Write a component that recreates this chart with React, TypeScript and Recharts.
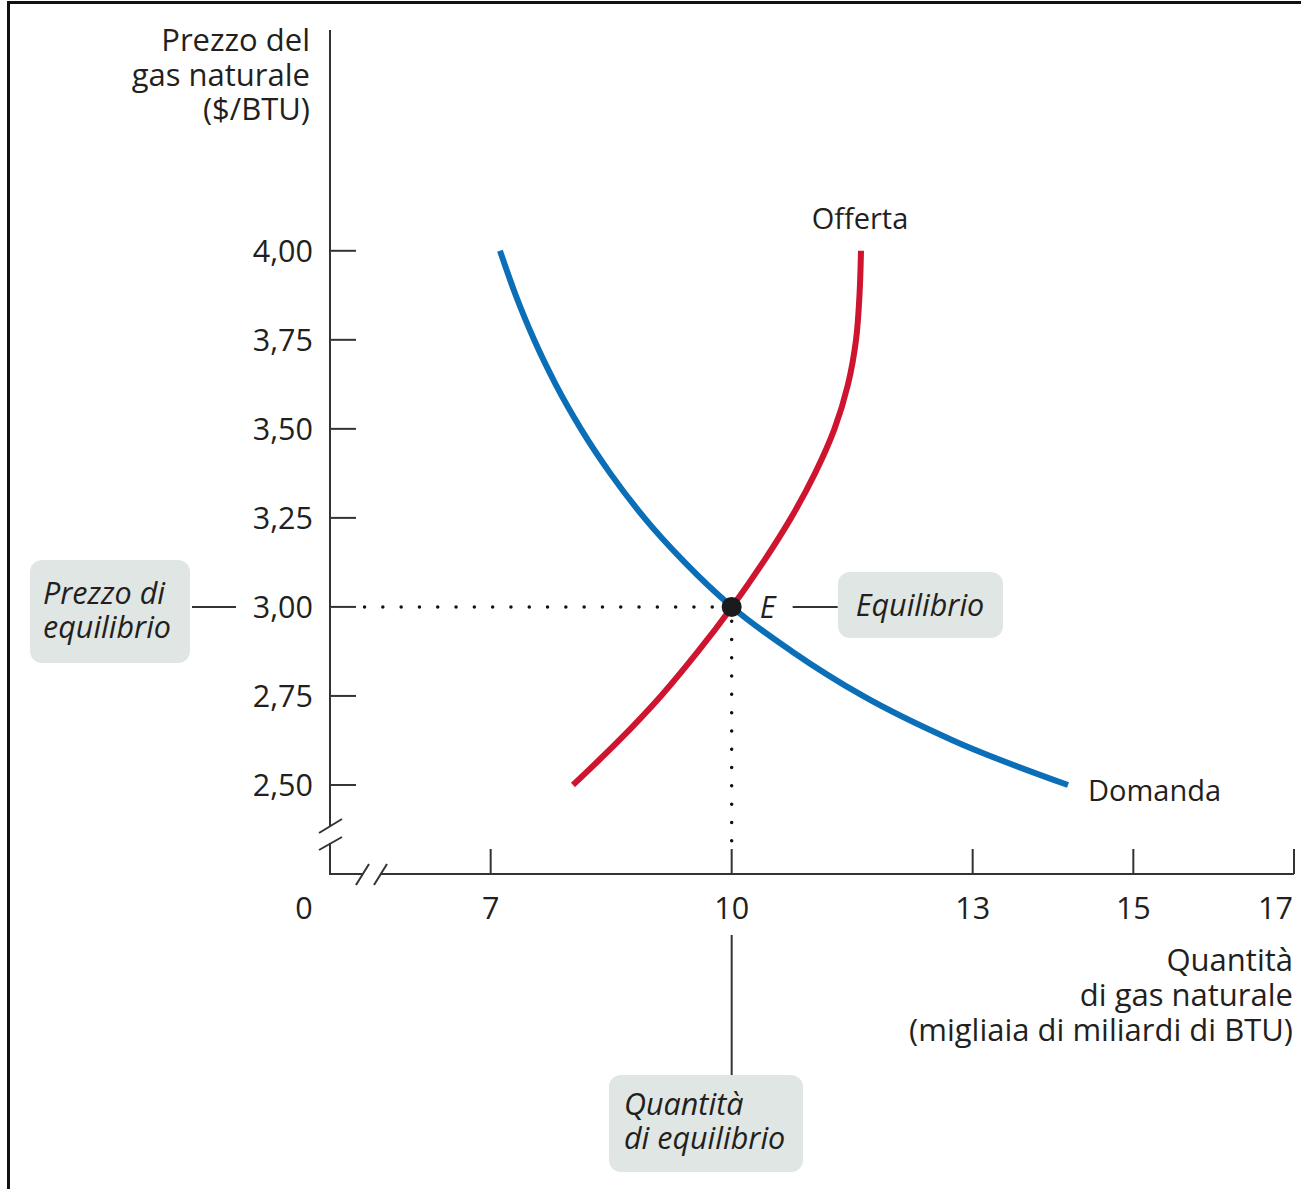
import React from 'react';
import { ComposedChart, Line, XAxis, YAxis, ReferenceLine } from 'recharts';

// ---------- data ----------
const demandQ = [7.116, 7.312, 7.541, 7.809, 8.123, 8.489, 8.913, 9.416, 10.004, 10.751, 11.635, 12.755, 14.187];
const demandP = [4.0, 3.875, 3.75, 3.625, 3.5, 3.375, 3.25, 3.125, 3.0, 2.875, 2.75, 2.625, 2.5];
const supplyQ = [8.025, 8.598, 9.12, 9.581, 10.004, 10.39, 10.739, 11.037, 11.28, 11.448, 11.548, 11.591, 11.61];
const supplyP = [2.5, 2.625, 2.75, 2.875, 3.0, 3.125, 3.25, 3.375, 3.5, 3.625, 3.75, 3.875, 4.0];
const equilibriumQ = [10];
const equilibriumP = [3];

const xTicks = [5, 7, 10, 13, 15, 17];
const xTickLabels = ['0', '7', '10', '13', '15', '17'];
const yTicks = [2.5, 2.75, 3, 3.25, 3.5, 3.75, 4];
const yTickLabels = ['2,50', '2,75', '3,00', '3,25', '3,50', '3,75', '4,00'];

const yTitle = ['Prezzo del', 'gas naturale', '($/BTU)'];
const xTitle = ['Quantità', 'di gas naturale', '(migliaia di miliardi di BTU)'];

// ---------- layout ----------
const W = 1301;
const H = 1189;
const Y_AXIS_W = 60;
const X_AXIS_H = 40;
const PLOT = { left: 330, top: 30, right: 1294, bottom: 874 };
const MARGIN = { top: PLOT.top, right: W - PLOT.right, bottom: H - PLOT.bottom - X_AXIS_H, left: PLOT.left - Y_AXIS_W };
const X_DOMAIN: [number, number] = [5, 17];
const Y_DOMAIN: [number, number] = [2.25, 4.62];
const PLOT_W = PLOT.right - PLOT.left;
const PLOT_H = PLOT.bottom - PLOT.top;
const sx = (q: number) => PLOT.left + ((q - X_DOMAIN[0]) / (X_DOMAIN[1] - X_DOMAIN[0])) * PLOT_W;
const sy = (p: number) => PLOT.top + ((Y_DOMAIN[1] - p) / (Y_DOMAIN[1] - Y_DOMAIN[0])) * PLOT_H;

const FONT = '"Open Sans", "Noto Sans", sans-serif';
const TEXT = '#231f20';
const AXIS = '#333333';
const BLUE = '#0b6fb8';
const RED = '#cf1430';
const BOX = '#dfe6e3';
const FS_TICK = 30.5;
const FS_TITLE = 31;
const FS_LABEL = 29;
const FS_BOX = 30.5;

const demandData = demandQ.map((q, i) => ({ q, p: demandP[i] }));
const supplyData = supplyQ.map((q, i) => ({ q, p: supplyP[i] }));
const eqData = equilibriumQ.map((q, i) => ({ q, p: equilibriumP[i] }));

const YTick = (props: any) => {
  const { x, y, payload } = props;
  const idx = yTicks.indexOf(payload.value);
  return (
    <g>
      <line x1={x} y1={y} x2={x + 26} y2={y} stroke={AXIS} strokeWidth={2} />
      <text x={x - 17} y={y} dy={11} textAnchor="end" fontFamily={FONT} fontSize={FS_TICK} fill={TEXT}>
        {yTickLabels[idx]}
      </text>
    </g>
  );
};

const XTick = (props: any) => {
  const { x, y, payload } = props;
  const idx = xTicks.indexOf(payload.value);
  const isZero = idx === 0;
  const isLast = idx === xTicks.length - 1;
  return (
    <g>
      {!isZero && <line x1={x} y1={y} x2={x} y2={y - 25} stroke={AXIS} strokeWidth={2} />}
      <text
        x={isZero ? x - 26 : isLast ? x - 1 : x}
        y={y + 45}
        textAnchor={isLast ? 'end' : 'middle'}
        fontFamily={FONT}
        fontSize={FS_TICK}
        fill={TEXT}
      >
        {xTickLabels[idx]}
      </text>
    </g>
  );
};

const Overlay = () => {
  const ax = sx(X_DOMAIN[0]);
  const ay = sy(Y_DOMAIN[0]);
  const top = sy(Y_DOMAIN[1]);
  const right = sx(X_DOMAIN[1]);
  const ex = sx(equilibriumQ[0]);
  const ey = sy(equilibriumP[0]);
  return (
    <svg
      width={W}
      height={H}
      style={{ position: 'absolute', left: 0, top: 0, pointerEvents: 'none' }}
    >
      {/* frame */}
      <line x1={8.5} y1={1} x2={8.5} y2={H} stroke="#111" strokeWidth={3} />
      <line x1={7} y1={2.5} x2={W} y2={2.5} stroke="#111" strokeWidth={3} />

      {/* y axis with break */}
      <g stroke={AXIS} strokeWidth={2} fill="none">
        <line x1={ax} y1={top} x2={ax} y2={ay - 48} />
        <line x1={ax} y1={ay - 31} x2={ax} y2={ay + 1} />
        <line x1={ax - 11} y1={ay - 41} x2={ax + 12} y2={ay - 55} />
        <line x1={ax - 11} y1={ay - 24} x2={ax + 12} y2={ay - 37} />
        {/* x axis with break */}
        <line x1={ax - 1} y1={ay} x2={ax + 32} y2={ay} />
        <line x1={ax + 50} y1={ay} x2={right} y2={ay} />
        <line x1={ax + 26} y1={ay + 11} x2={ax + 39} y2={ay - 10} />
        <line x1={ax + 44} y1={ay + 11} x2={ax + 57} y2={ay - 10} />
      </g>

      {/* axis titles */}
      <g fontFamily={FONT} fontSize={FS_TITLE} fill={TEXT} textAnchor="end">
        {yTitle.map((t, i) => (
          <text key={t} x={310} y={51 + i * 34.5}>{t}</text>
        ))}
        {xTitle.map((t, i) => (
          <text key={t} x={1293} y={971 + i * 35}>{t}</text>
        ))}
      </g>

      {/* curve labels */}
      <text x={860} y={229} textAnchor="middle" fontFamily={FONT} fontSize={FS_LABEL} fill={TEXT}>Offerta</text>
      <text x={1088} y={801} fontFamily={FONT} fontSize={FS_LABEL} fill={TEXT}>Domanda</text>

      {/* E label and equilibrium box */}
      <text x={ex + 28} y={ey + 11} fontFamily={FONT} fontSize={FS_BOX} fontStyle="italic" fill={TEXT}>E</text>
      <line x1={ex + 61} y1={ey} x2={ex + 106} y2={ey} stroke={AXIS} strokeWidth={2} />
      <rect x={838} y={572} width={165} height={66} rx={12} fill={BOX} />
      <text x={920} y={616} textAnchor="middle" fontFamily={FONT} fontSize={FS_BOX} fontStyle="italic" fill={TEXT}>Equilibrio</text>

      {/* price box */}
      <rect x={30} y={560} width={160} height={103} rx={12} fill={BOX} />
      <text x={43} y={604} fontFamily={FONT} fontSize={FS_BOX} fontStyle="italic" fill={TEXT}>Prezzo di</text>
      <text x={43} y={638} fontFamily={FONT} fontSize={FS_BOX} fontStyle="italic" fill={TEXT}>equilibrio</text>
      <line x1={192} y1={ey} x2={236} y2={ey} stroke={AXIS} strokeWidth={2} />

      {/* quantity box */}
      <line x1={ex} y1={935} x2={ex} y2={1076} stroke={AXIS} strokeWidth={2} />
      <rect x={609} y={1075} width={194} height={97} rx={12} fill={BOX} />
      <text x={624} y={1115} fontFamily={FONT} fontSize={FS_BOX} fontStyle="italic" fill={TEXT}>Quantità</text>
      <text x={624} y={1149} fontFamily={FONT} fontSize={FS_BOX} fontStyle="italic" fill={TEXT}>di equilibrio</text>
    </svg>
  );
};

export default function App() {
  return (
    <div style={{ position: 'absolute', left: 0, top: 0, width: W, height: H, background: '#fff', overflow: 'hidden' }}>
      <ComposedChart width={W} height={H} margin={MARGIN}>
        <XAxis
          type="number"
          dataKey="q"
          domain={X_DOMAIN}
          ticks={xTicks}
          allowDataOverflow
          axisLine={false}
          tickLine={false}
          tickSize={0}
          tickMargin={0}
          height={X_AXIS_H}
          interval={0}
          tick={<XTick />}
        />
        <YAxis
          type="number"
          dataKey="p"
          domain={Y_DOMAIN}
          ticks={yTicks}
          allowDataOverflow
          axisLine={false}
          tickLine={false}
          tickSize={0}
          tickMargin={0}
          width={Y_AXIS_W}
          interval={0}
          tick={<YTick />}
        />
        <ReferenceLine
          segment={[{ x: 5.43, y: equilibriumP[0] }, { x: equilibriumQ[0], y: equilibriumP[0] }]}
          stroke="#111"
          strokeWidth={3.5}
          strokeLinecap="round"
          strokeDasharray="0 18.3"
        />
        <ReferenceLine
          segment={[{ x: equilibriumQ[0], y: 2.96 }, { x: equilibriumQ[0], y: 2.31 }]}
          stroke="#111"
          strokeWidth={3.5}
          strokeLinecap="round"
          strokeDasharray="0 18.3"
        />
        <Line
          data={demandData}
          dataKey="p"
          type="monotone"
          stroke={BLUE}
          strokeWidth={6}
          dot={false}
          activeDot={false}
          isAnimationActive={false}
        />
        <Line
          data={supplyData}
          dataKey="p"
          type="monotoneY"
          stroke={RED}
          strokeWidth={6}
          dot={false}
          activeDot={false}
          isAnimationActive={false}
        />
        <Line
          data={eqData}
          dataKey="p"
          stroke="none"
          dot={{ r: 10, fill: '#1b1b1b', stroke: 'none' }}
          activeDot={false}
          isAnimationActive={false}
        />
      </ComposedChart>
      <Overlay />
    </div>
  );
}
